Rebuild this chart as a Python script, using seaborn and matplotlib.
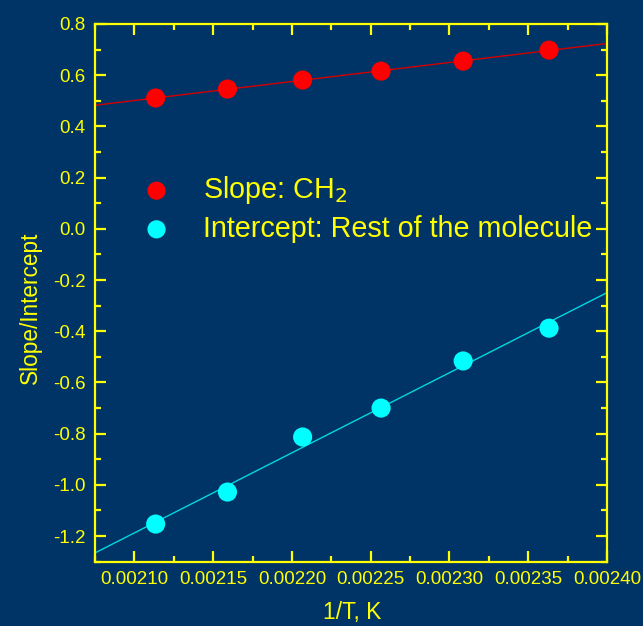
import matplotlib
matplotlib.use("Agg")
import matplotlib.pyplot as plt
import seaborn as sns
import numpy as np
import pandas as pd
from matplotlib.ticker import MultipleLocator, FormatStrFormatter

inv_T = [0.0021135, 0.0021591, 0.0022068, 0.0022566, 0.0023087, 0.0023632]
slope_vals = [0.511, 0.546, 0.581, 0.616, 0.655, 0.698]
intercept_vals = [-1.153, -1.028, -0.813, -0.700, -0.516, -0.388]
labels = ["Slope: CH$_2$", "Intercept: Rest of the molecule"]

BG = "#003366"
YEL = "#ffff00"

sns.set_theme(style="ticks")
plt.rcParams['font.family'] = ['Liberation Sans', 'DejaVu Sans']

fig = plt.figure(figsize=(6.43, 6.26), dpi=100, facecolor=BG)
ax = fig.add_axes([95/643, 1-561.7/626, 512/643, 537.7/626])
ax.set_facecolor(BG)
ax.set_xlim(0.002075, 0.00240)
ax.set_ylim(-1.3, 0.8)

df = pd.DataFrame({"x": inv_T, "slope": slope_vals, "intercept": intercept_vals})

sns.regplot(data=df, x="x", y="slope", ax=ax, ci=None, truncate=False,
            label=labels[0],
            scatter_kws=dict(s=190, color="#ff0000", edgecolor="none", alpha=1, zorder=3),
            line_kws=dict(color="#d40000", lw=1.0, zorder=2))
sns.regplot(data=df, x="x", y="intercept", ax=ax, ci=None, truncate=False,
            label=labels[1],
            scatter_kws=dict(s=190, color="#00ffff", edgecolor="none", alpha=1, zorder=3),
            line_kws=dict(color="#00d8e0", lw=1.0, zorder=2))

ax.set_xlim(0.002075, 0.00240)
ax.set_ylim(-1.3, 0.8)

ax.xaxis.set_major_locator(MultipleLocator(0.00005))
ax.xaxis.set_minor_locator(MultipleLocator(0.000025))
ax.yaxis.set_major_locator(MultipleLocator(0.2))
ax.yaxis.set_minor_locator(MultipleLocator(0.1))
ax.xaxis.set_major_formatter(FormatStrFormatter("%.5f"))
ax.yaxis.set_major_formatter(FormatStrFormatter("%.1f"))

for sp in ax.spines.values():
    sp.set_color(YEL)
    sp.set_linewidth(1.6)
    sp.set_visible(True)

ax.tick_params(which="both", direction="in", top=True, right=True,
               color=YEL, labelcolor=YEL, labelsize=13.5, width=1.6)
ax.tick_params(which="major", length=8, pad=7)
ax.tick_params(which="minor", length=4.5)

ax.set_xlabel("1/T, K", color=YEL, fontsize=16.5)
ax.set_ylabel("Slope/Intercept", color=YEL, fontsize=16.3)
ax.xaxis.set_label_coords(0.502, -0.074)
ax.yaxis.set_label_coords(-0.103, 0.472)

leg = ax.legend(loc="upper left", bbox_to_anchor=(0.043, 0.7687), frameon=False,
                fontsize=20.7, handlelength=0.95, handletextpad=1.15, labelspacing=0.3,
                markerscale=0.95)
for t in leg.get_texts():
    t.set_color(YEL)

fig.savefig("out.png", dpi=100, facecolor=BG)
